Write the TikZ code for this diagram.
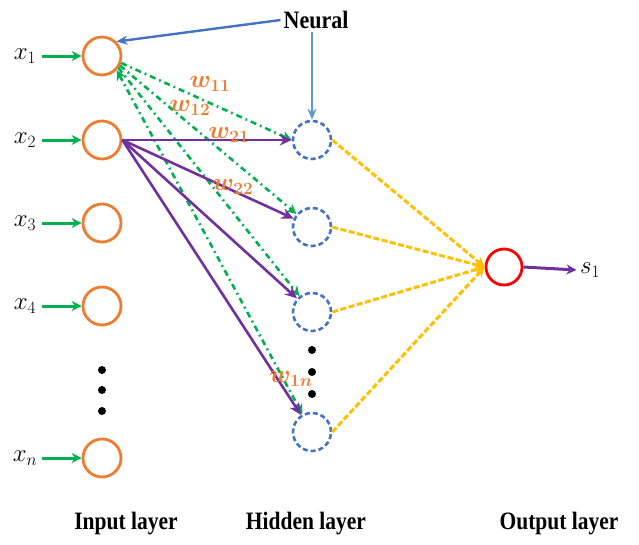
\documentclass[tikz,border=0pt]{standalone}
\usepackage{fontspec}
\setmainfont{Liberation Serif}
\usetikzlibrary{arrows.meta}
\definecolor{inorange}{RGB}{237,125,49}
\definecolor{hidblue}{RGB}{68,114,196}
\definecolor{lightblue}{RGB}{91,155,213}
\definecolor{ingreen}{RGB}{0,176,80}
\definecolor{purp}{RGB}{112,48,160}
\definecolor{yell}{RGB}{255,192,0}
\tikzset{
  inp/.style={circle,draw=inorange,line width=2.8pt,minimum size=38pt,inner sep=0pt},
  hid/.style={circle,draw=hidblue,line width=2.6pt,dash pattern=on 5pt off 3pt,minimum size=38pt,inner sep=0pt},
  outn/.style={circle,draw=red,line width=2.8pt,minimum size=36pt,inner sep=0pt},
  inarrow/.style={draw=ingreen,line width=3pt,-{Stealth[length=10pt,width=10pt]}},
  dashdot/.style={draw=ingreen,line width=2.6pt,dash pattern=on 6pt off 4pt on 1.8pt off 4pt,-{Stealth[length=10pt,width=10pt]}},
  purpline/.style={draw=purp,line width=2.6pt,-{Stealth[length=12pt,width=11pt]}},
  yline/.style={draw=yell,line width=3pt,dash pattern=on 6pt off 2.5pt,-{Stealth[length=10pt,width=10pt]}},
  xlab/.style={font=\fontsize{25}{28}\selectfont},
  wlab/.style={text=inorange,font=\fontsize{23}{26}\selectfont\boldmath,inner sep=0pt},
  layerlab/.style={font=\fontsize{25}{28}\selectfont\bfseries,xscale=0.86},
  dotmark/.style={circle,fill=black,minimum size=8pt,inner sep=0pt}
}
\begin{document}
\begin{tikzpicture}[x=1pt,y=-1pt]
\useasboundingbox (0,0) rectangle (639,544);

% input layer
\node[inp] (i1) at (102,56) {};
\node[inp] (i2) at (102,140) {};
\node[inp] (i3) at (102,223) {};
\node[inp] (i4) at (102,306) {};
\node[inp] (in) at (102,458) {};
\foreach \n/\y/\s in {i1/56/1,i2/140/2,i3/223/3,i4/306/4,in/458/n}{
  \node[xlab] (lab\n) at (25,\y) {$x_{\s}$};
  \coordinate (src\n) at (42,\y);
  \draw[inarrow] (src\n) -- (\n.west);
}
\node[dotmark] (id1) at (102,370) {};
\node[dotmark] (id2) at (102,390) {};
\node[dotmark] (id3) at (102,411) {};

% hidden layer
\node[hid] (h1) at (312,140) {};
\node[hid] (h2) at (312,227) {};
\node[hid] (h3) at (312,312) {};
\node[hid] (h4) at (312,432) {};
\node[dotmark] (hd1) at (312,350) {};
\node[dotmark] (hd2) at (312,372) {};
\node[dotmark] (hd3) at (312,394) {};

% output layer
\node[outn] (o) at (504,267) {};
\node[xlab] (s1) at (590,270) {$s_1$};
\draw[draw=purp,line width=3pt,-{Stealth[length=10pt,width=10pt]}] (o.east) -- (s1.west);

% connections from x1 (dash-dot)
\draw[dashdot] (i1.-20) -- (h1.west);
\draw[dashdot] (i1.-28) -- (h2);
\draw[dashdot] (i1.-36) -- (h3);
\draw[dashdot,{Stealth[length=10pt,width=10pt]}-{Stealth[length=10pt,width=10pt]}] (i1.-44) -- (h4);

% connections from x2
\draw[purpline] (i2.east) -- (h1.west);
\draw[purpline] (i2.east) -- (h2);
\draw[purpline] (i2.east) -- (h3);
\draw[purpline] (i2.east) -- (h4);

% hidden to output
\foreach \h in {h1,h2,h3,h4}{
  \draw[yline] (\h.east) -- (o.west);
}

% weights
\node[wlab] (w11) at (210,84) {$w_{11}$};
\node[wlab] (w12) at (190,108) {$w_{12}$};
\node[wlab] (w21) at (229,135) {$w_{21}$};
\node[wlab] (w22) at (233,187) {$w_{22}$};
\node[wlab] (w1n) at (291,379) {$w_{1n}$};

% neuron annotation
\node[font=\fontsize{25}{28}\selectfont\bfseries,xscale=0.88] (neural) at (316,20) {Neural};
\draw[draw=hidblue,line width=2.4pt,-{Stealth[length=11pt,width=9pt]}] (neural.west) -- (i1.north east);
\draw[draw=lightblue,line width=2pt,-{Stealth[length=11pt,width=9pt]}] (neural.south -| h1) -- (h1.north);

% layer captions
\node[layerlab] (cin) at (126,524) {Input layer};
\node[layerlab] (chid) at (306,524) {Hidden layer};
\node[layerlab] (cout) at (559,524) {Output layer};
\end{tikzpicture}
\end{document}
